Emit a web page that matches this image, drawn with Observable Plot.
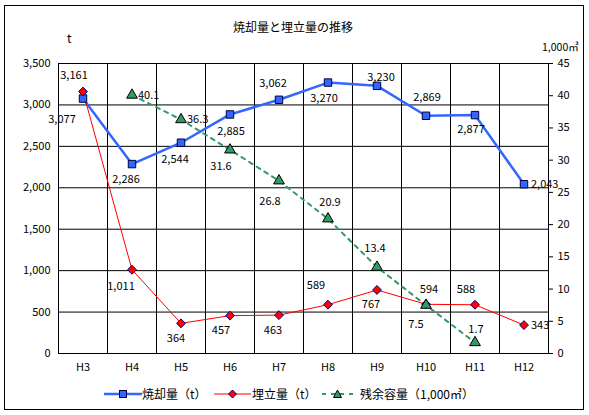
<!DOCTYPE html>
<html><head><meta charset="utf-8">
<script src="https://cdn.jsdelivr.net/npm/d3@7"></script>
<script src="https://cdn.jsdelivr.net/npm/@observablehq/plot@0.6"></script>
<style>
body{margin:0;background:#fff;font-family:"Noto Sans CJK JP",sans-serif;color:#000;}
#wrap{position:relative;width:589px;height:415px;overflow:hidden;background:#fff;}
#border{position:absolute;left:4px;top:5px;width:580px;height:405px;border:1px solid #000;box-sizing:border-box;}
.abs{position:absolute;white-space:nowrap;}
#chart{position:absolute;left:0;top:0;}
</style>
</head><body>
<div id="wrap">
  <div id="border"></div>
  <div id="chart"></div>
  <div class="abs" style="left:0;width:586px;top:19px;text-align:center;font-size:12px;line-height:16px;">焼却量と埋立量の推移</div>
  <div class="abs" style="left:67px;top:30px;font-size:12px;line-height:16px;">t</div>
  <div class="abs" style="left:542px;top:40px;font-size:10.5px;line-height:13px;">1,000㎥</div>
  <div id="legend"></div>
</div>
<script>
const categories = ["H3","H4","H5","H6","H7","H8","H9","H10","H11","H12"];
const incineration = [3077,2286,2544,2885,3062,3270,3230,2869,2877,2043];
const landfill = [3161,1011,364,457,463,589,767,594,588,343];
const remaining = [null,40.1,36.3,31.6,26.8,20.9,13.4,7.5,1.7,null];
const leftTicks = [0,500,1000,1500,2000,2500,3000,3500];
const rightTicks = [0,5,10,15,20,25,30,35,40,45];
const seriesNames = ["焼却量（t）","埋立量（t）","残余容量（1,000㎥）"];

// label offsets (style only)
const incinOff = [[-21,21],[-6,15],[-6,17],[1,17],[-6,-16],[-4,16],[4,-8],[1,-18],[-4,14],[7,0,"start"]];
const landOff = [[-9,-16],[-11,17],[-5,15],[-9,15],[-6,15],[-12,-19],[-6,15],[3,-15],[-9,-15],[7,0,"start"]];
const remOff = [null,[6,0,"start"],[6,0,"start"],[-9,17],[-9,21],[2,-16],[-2,-19],[-10,19],[1,-13],null];

const BLUE = "#3366ff", RED = "#ff0000", GREEN = "#339966";
const y2 = d3.scaleLinear([0,45],[0,3500]);
const rows = categories.map((c,i)=>({i, c, incin: incineration[i], land: landfill[i], rem: remaining[i]}));
const remRows = rows.filter(d=>d.rem!=null);
const fmt = d3.format(",");
const fmt1 = d3.format(".1f");
const boundaries = categories.slice(1).map((c,i)=>i+0.5);

const labelMarks = [];
rows.forEach((d,i)=>{
  const a = incinOff[i];
  labelMarks.push(Plot.text([d],{x:"i",y:"incin",text:r=>fmt(r.incin),dx:a[0],dy:a[1],textAnchor:a[2]||"middle",fill:"black",fontSize:11}));
  const b = landOff[i];
  labelMarks.push(Plot.text([d],{x:"i",y:"land",text:r=>fmt(r.land),dx:b[0],dy:b[1],textAnchor:b[2]||"middle",fill:"black",fontSize:11}));
  const c = remOff[i];
  if (c && d.rem!=null) labelMarks.push(Plot.text([d],{x:"i",y:r=>y2(r.rem),text:r=>fmt1(r.rem),dx:c[0],dy:c[1],textAnchor:c[2]||"middle",fill:"black",fontSize:11}));
});

const plot = Plot.plot({
  width:589, height:415,
  marginLeft:58, marginRight:41, marginTop:63, marginBottom:62,
  style:{fontFamily:"'Noto Sans CJK JP', sans-serif", fontSize:"11px", color:"black", background:"transparent", overflow:"visible"},
  x:{domain:[-0.5,9.5]},
  y:{domain:[0,3500]},
  marks:[
    Plot.ruleY(leftTicks,{stroke:"black",strokeWidth:1}),
    Plot.ruleX(boundaries,{stroke:"black",strokeWidth:1}),
    Plot.frame({stroke:"black",strokeWidth:1}),
    Plot.axisY(leftTicks,{anchor:"left",tickSize:0,tickPadding:8,tickFormat:fmt,label:null}),
    Plot.axisY(rightTicks.map(v=>y2(v)),{anchor:"right",tickSize:4,tickPadding:5,tickFormat:v=>String(Math.round(y2.invert(v))),label:null}),
    Plot.axisX(d3.range(categories.length),{anchor:"bottom",tickSize:0,tickPadding:10,tickFormat:i=>categories[i],label:null}),
    Plot.line(rows,{x:"i",y:"incin",stroke:BLUE,strokeWidth:2.5}),
    Plot.line(rows,{x:"i",y:"land",stroke:RED,strokeWidth:1}),
    Plot.line(remRows,{x:"i",y:r=>y2(r.rem),stroke:GREEN,strokeWidth:2,strokeDasharray:"4,5"}),
    Plot.dot(rows,{x:"i",y:"incin",symbol:"square",r:4.2,fill:BLUE,stroke:"#000040",strokeWidth:1}),
    Plot.dot(rows,{x:"i",y:"land",symbol:"diamond2",r:4,fill:RED,stroke:"#000080",strokeWidth:1}),
    Plot.dot(remRows,{x:"i",y:r=>y2(r.rem),symbol:"triangle",r:4,fill:GREEN,stroke:"black",strokeWidth:1}),
    ...labelMarks
  ]
});
document.getElementById("chart").appendChild(plot);

// legend
const lg = document.getElementById("legend");
const legendItems = [
  {left:104, w:38, text:seriesNames[0], textLeft:142,
   svg:`<line x1="0" y1="8" x2="38" y2="8" stroke="${BLUE}" stroke-width="2.5"/><rect x="15.5" y="4.5" width="7" height="7" fill="${BLUE}" stroke="#000040"/>`},
  {left:214, w:37, text:seriesNames[1], textLeft:252,
   svg:`<line x1="0" y1="8" x2="37" y2="8" stroke="${RED}" stroke-width="1"/><path d="M18.5,4 L22.5,8 L18.5,12 L14.5,8 Z" fill="${RED}" stroke="#000080"/>`},
  {left:322, w:31, text:seriesNames[2], textLeft:360,
   svg:`<line x1="0" y1="8" x2="31" y2="8" stroke="${GREEN}" stroke-width="2" stroke-dasharray="4,5"/><path d="M15.5,4 L19.5,11.5 L11.5,11.5 Z" fill="${GREEN}" stroke="black"/>`}
];
legendItems.forEach(it=>{
  const s = document.createElement("div");
  s.className="abs";
  s.style.left=it.left+"px"; s.style.top="386px";
  s.innerHTML=`<svg width="${it.w}" height="16" style="display:block">${it.svg}</svg>`;
  lg.appendChild(s);
  const t = document.createElement("div");
  t.className="abs";
  t.style.left=it.textLeft+"px"; t.style.top="386px"; t.style.fontSize="12px"; t.style.lineHeight="16px";
  t.textContent=it.text;
  lg.appendChild(t);
});
</script>
</body></html>
